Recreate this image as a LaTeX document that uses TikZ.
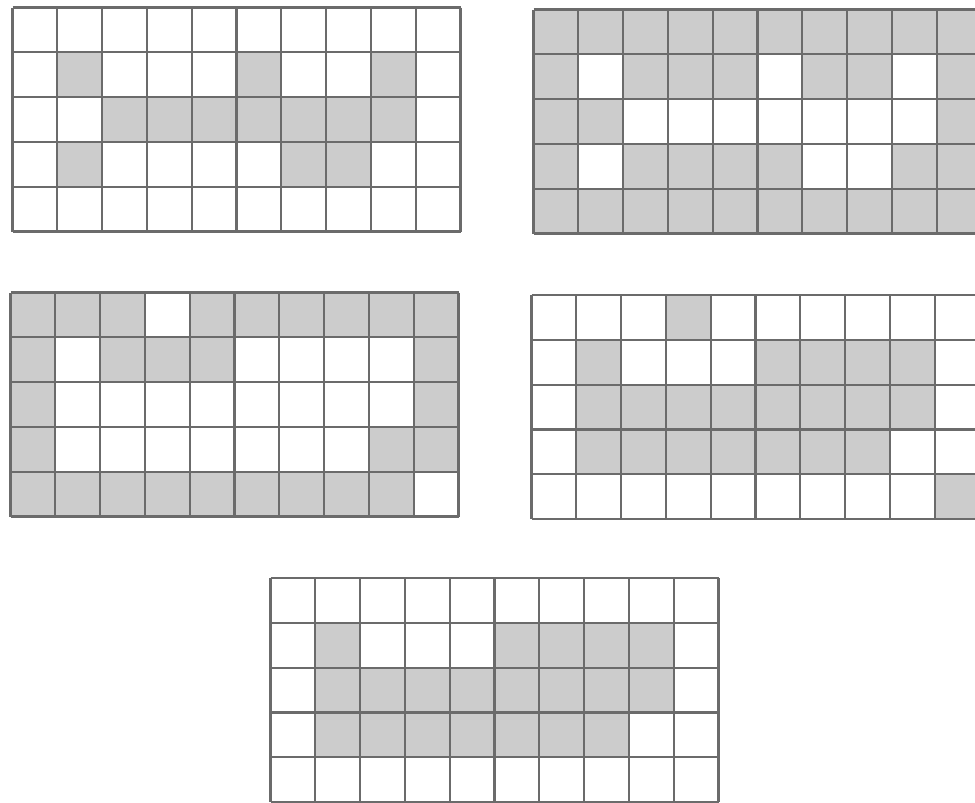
\documentclass[tikz,border=0pt]{standalone}
\usepackage{xcolor}
\usepackage{tikz}

\definecolor{gridgray}{gray}{0.42}
\definecolor{cellgray}{gray}{0.8}

\begin{document}
\begin{tikzpicture}[
  x=0.5pt, y=-0.5pt,
  gridline/.style={draw=gridgray, line width=1.1pt},
  shaded/.style={fill=cellgray},
  board/.style={x=22.4pt, y=-22.4pt}
]
\useasboundingbox (0,0) rectangle (975,803);
\clip (0,0) rectangle (975,803);

% grid 1 (top left)
\begin{scope}[shift={(12.5,7.5)}, board]
\foreach \c/\r in {2/2,6/2,9/2,3/3,4/3,5/3,6/3,7/3,8/3,9/3,2/4,7/4,8/4}
  \fill[shaded] (\c-1,\r-1) rectangle (\c,\r);
\foreach \i in {0,...,10} \draw[gridline] (\i,0) -- (\i,5);
\foreach \j in {0,...,5} \draw[gridline] (0,\j) -- (10,\j);
\end{scope}

% grid 2 (top right)
\begin{scope}[shift={(533.5,9.5)}, board]
\foreach \c in {1,...,10} {
  \fill[shaded] (\c-1,0) rectangle (\c,1);
  \fill[shaded] (\c-1,4) rectangle (\c,5);
}
\foreach \c/\r in {1/2,3/2,4/2,5/2,7/2,8/2,10/2,1/3,2/3,10/3,1/4,3/4,4/4,5/4,6/4,9/4,10/4}
  \fill[shaded] (\c-1,\r-1) rectangle (\c,\r);
\foreach \i in {0,...,10} \draw[gridline] (\i,0) -- (\i,5);
\foreach \j in {0,...,5} \draw[gridline] (0,\j) -- (10,\j);
\end{scope}

% grid 3 (middle left)
\begin{scope}[shift={(10.5,292.5)}, board]
\foreach \c/\r in {1/1,2/1,3/1,5/1,6/1,7/1,8/1,9/1,10/1,1/2,3/2,4/2,5/2,10/2,1/3,10/3,1/4,9/4,10/4,
                   1/5,2/5,3/5,4/5,5/5,6/5,7/5,8/5,9/5}
  \fill[shaded] (\c-1,\r-1) rectangle (\c,\r);
\foreach \i in {0,...,10} \draw[gridline] (\i,0) -- (\i,5);
\foreach \j in {0,...,5} \draw[gridline] (0,\j) -- (10,\j);
\end{scope}

% grid 4 (middle right)
\begin{scope}[shift={(531.5,295)}, board]
\foreach \c/\r in {4/1,2/2,6/2,7/2,8/2,9/2,2/3,3/3,4/3,5/3,6/3,7/3,8/3,9/3,
                   2/4,3/4,4/4,5/4,6/4,7/4,8/4,10/5}
  \fill[shaded] (\c-1,\r-1) rectangle (\c,\r);
\foreach \i in {0,...,10} \draw[gridline] (\i,0) -- (\i,5);
\foreach \j in {0,...,5} \draw[gridline] (0,\j) -- (10,\j);
\end{scope}

% grid 5 (bottom)
\begin{scope}[shift={(270.5,578)}, board]
\foreach \c/\r in {2/2,6/2,7/2,8/2,9/2,2/3,3/3,4/3,5/3,6/3,7/3,8/3,9/3,
                   2/4,3/4,4/4,5/4,6/4,7/4,8/4}
  \fill[shaded] (\c-1,\r-1) rectangle (\c,\r);
\foreach \i in {0,...,10} \draw[gridline] (\i,0) -- (\i,5);
\foreach \j in {0,...,5} \draw[gridline] (0,\j) -- (10,\j);
\end{scope}
\end{tikzpicture}
\end{document}
